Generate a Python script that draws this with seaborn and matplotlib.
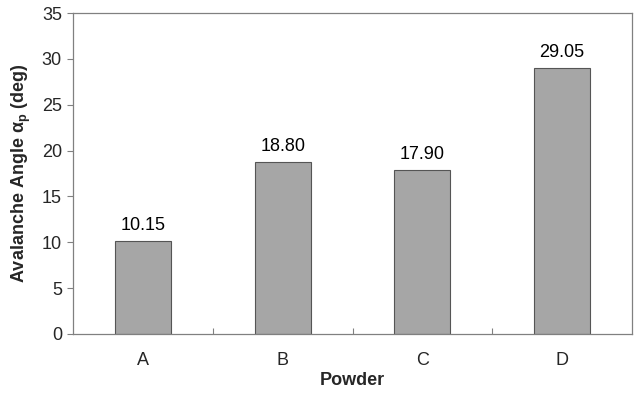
import matplotlib
matplotlib.use("Agg")
import matplotlib.pyplot as plt
import seaborn as sns
import pandas as pd
from matplotlib.ticker import FixedLocator

powders = ["A", "B", "C", "D"]
angles = [10.15, 18.80, 17.90, 29.05]
labels = ["10.15", "18.80", "17.90", "29.05"]

sns.set_style("white")
plt.rcParams["font.family"] = ["Liberation Sans", "DejaVu Sans"]
plt.rcParams["mathtext.fontset"] = "custom"
plt.rcParams["mathtext.rm"] = "Liberation Sans"
plt.rcParams["mathtext.bf"] = "Liberation Sans:bold"

df = pd.DataFrame({"Powder": powders, "Angle": angles})

fig = plt.figure(figsize=(6.35, 3.94), dpi=100)
ax = fig.add_axes([73/635, 60/394, 559/635, 321/394])

sns.barplot(data=df, x="Powder", y="Angle", color="#a6a6a6", width=0.4,
            edgecolor="#555555", linewidth=0.8, saturation=1, ax=ax)

for i, (v, t) in enumerate(zip(angles, labels)):
    ax.text(i, v + 0.7, t, ha="center", va="bottom", fontsize=13, color="black")

ax.set_ylim(0, 35)
ax.set_xlim(-0.5, 3.5)
ax.set_yticks(range(0, 36, 5))
ax.tick_params(axis="y", direction="out", length=4, width=0.8, color="#808080",
               labelsize=13, pad=4, left=True)
ax.tick_params(axis="x", which="major", length=0, labelsize=13, pad=13)
ax.xaxis.set_minor_locator(FixedLocator([0.5, 1.5, 2.5]))
ax.tick_params(axis="x", which="minor", direction="in", length=4, width=0.8,
               color="#808080", bottom=True)

for s in ax.spines.values():
    s.set_visible(True)
    s.set_color("#808080")
    s.set_linewidth(0.9)

ax.set_xlabel("Powder", fontsize=13, fontweight="bold", labelpad=2)
ax.set_ylabel(r"Avalanche Angle α$_\mathbf{p}$ (deg)", fontsize=13,
              fontweight="bold", labelpad=6)

fig.savefig("out.png", dpi=100)
